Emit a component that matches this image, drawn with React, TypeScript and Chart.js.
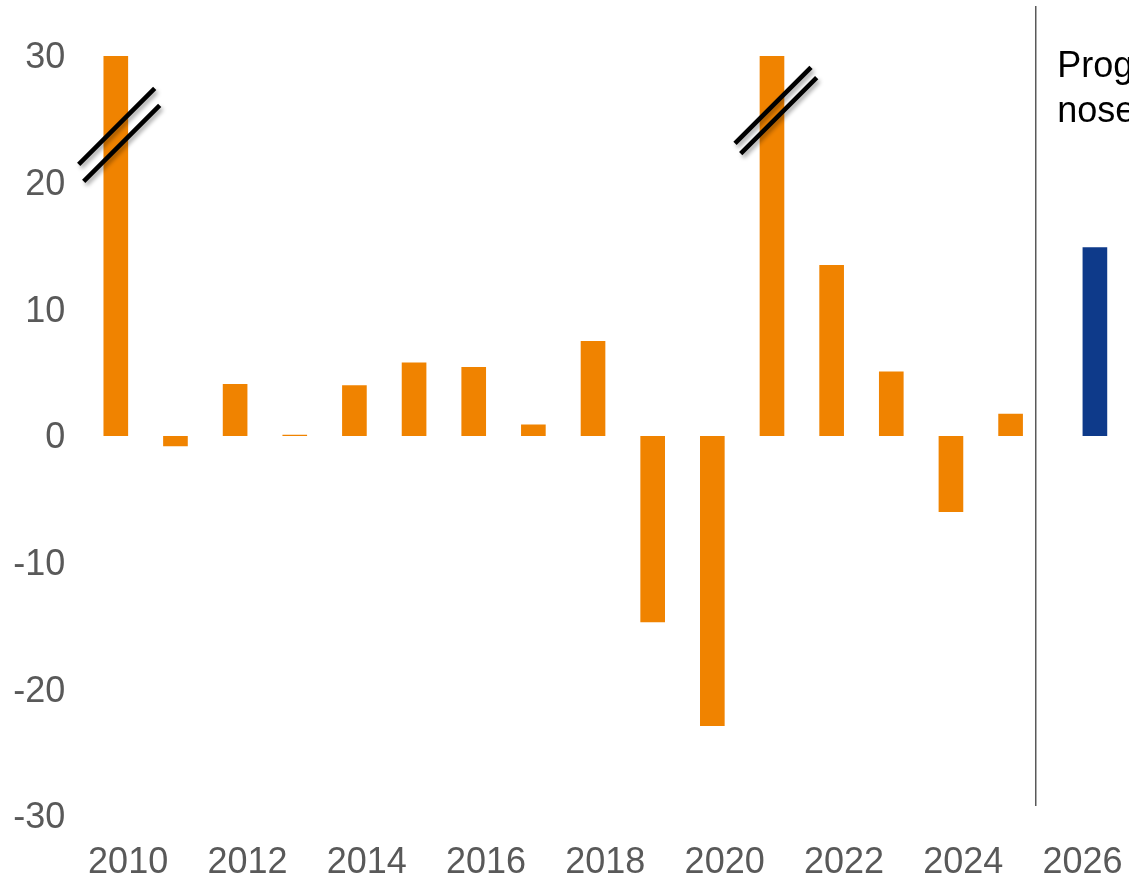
import React, { useEffect, useRef } from "react";
import { Chart, registerables } from "chart.js";

Chart.register(...registerables);

// ---- data ----
const years = [
  "2010", "2011", "2012", "2013", "2014", "2015", "2016", "2017", "2018",
  "2019", "2020", "2021", "2022", "2023", "2024", "2025", "2026",
];
// historical values (2010 and 2021 are cut off at 30 with break marks)
const historical: (number | null)[] = [
  30, -0.8, 4.1, 0.1, 4.0, 5.8, 5.45, 0.9, 7.5, -14.7, -22.9, 30, 13.5, 5.1, -6.0, 1.75, null,
];
const forecast: (number | null)[] = [
  null, null, null, null, null, null, null, null, null, null, null, null, null, null, null, null, 14.9,
];
const yTicks = [-30, -20, -10, 0, 10, 20, 30];
const forecastLabel = ["Prog-", "nose"];
const brokenBars = ["2010", "2021"];
const dividerAfter = "2025";

// ---- styles ----
const ORANGE = "#F08300";
const BLUE = "#0E3A8A";
const GREY = "#595959";
const FAMILY = "'Liberation Sans', Arial, Helvetica, sans-serif";

// break mark geometry: for each broken bar, two 45-degree strokes
// [x offset from bar centre in px, value at stroke middle]
const breakGeometry: Record<string, [number, number][]> = {
  "2010": [[0.9, 24.44], [5.9, 23.11]],
  "2021": [[1.0, 26.1], [6.7, 25.29]],
};

const overlayPlugin = {
  id: "overlay",
  afterDatasetsDraw(chart: any) {
    const ctx = chart.ctx as CanvasRenderingContext2D;
    const xs = chart.scales.x;
    const ys = chart.scales.y;
    const meta = chart.getDatasetMeta(0);

    // break marks
    brokenBars.forEach((yr) => {
      const idx = years.indexOf(yr);
      const bar = meta.data[idx];
      if (!bar) return;
      const geo = breakGeometry[yr];
      ctx.save();
      ctx.strokeStyle = "#000";
      ctx.lineWidth = 4.6;
      ctx.lineCap = "butt";
      ctx.shadowColor = "rgba(0,0,0,0.35)";
      ctx.shadowBlur = 4;
      ctx.shadowOffsetX = 2;
      ctx.shadowOffsetY = 3;
      geo.forEach(([dx, v]) => {
        const cx = bar.x + dx;
        const cy = ys.getPixelForValue(v);
        const h = 38;
        ctx.beginPath();
        ctx.moveTo(cx - h, cy + h);
        ctx.lineTo(cx + h, cy - h);
        ctx.stroke();
      });
      ctx.restore();
    });

    // divider between history and forecast
    const i = years.indexOf(dividerAfter);
    const step = xs.getPixelForValue(i + 1) - xs.getPixelForValue(i);
    const dx = xs.getPixelForValue(i) + step * 0.215;
    ctx.save();
    ctx.strokeStyle = GREY;
    ctx.lineWidth = 1.5;
    ctx.beginPath();
    ctx.moveTo(dx, 6);
    ctx.lineTo(dx, chart.chartArea.bottom - 10);
    ctx.stroke();

    // forecast label
    ctx.fillStyle = "#000";
    ctx.font = `36px ${FAMILY}`;
    ctx.textAlign = "left";
    ctx.textBaseline = "alphabetic";
    forecastLabel.forEach((t, k) => {
      ctx.fillText(t, dx + 21.5, 77 + k * 45);
    });
    ctx.restore();
  },
};

export default function App() {
  const ref = useRef<HTMLCanvasElement>(null);

  useEffect(() => {
    document.body.style.margin = "0";
    document.body.style.overflow = "hidden";
    const canvas = ref.current!;
    const chart = new Chart(canvas, {
      type: "bar",
      data: {
        labels: years,
        datasets: [
          {
            label: "Historisk",
            data: historical,
            backgroundColor: ORANGE,
            borderWidth: 0,
            categoryPercentage: 0.8265,
            barPercentage: 1,
          },
          {
            label: "Prognose",
            data: forecast,
            backgroundColor: BLUE,
            borderWidth: 0,
            categoryPercentage: 0.8265,
            barPercentage: 1,
          },
        ],
      },
      options: {
        responsive: false,
        animation: false,
        devicePixelRatio: 1,
        layout: { padding: { left: 13, right: 16.6, top: 56, bottom: 0 } },
        plugins: {
          legend: { display: false },
          tooltip: { enabled: false },
        },
        scales: {
          x: {
            grid: { display: false, drawTicks: false },
            border: { display: false },
            ticks: {
              autoSkip: false,
              maxRotation: 0,
              minRotation: 0,
              padding: 25,
              color: GREY,
              font: { size: 36, family: FAMILY },
              callback: (_v: any, idx: number) => (idx % 2 === 0 ? years[idx] : ""),
            },
            afterFit: (s: any) => {
              s.height = 64;
              s.paddingLeft = 0;
              s.paddingRight = 0;
            },
          },
          y: {
            min: -30,
            max: 30,
            grid: { display: false, drawTicks: false },
            border: { display: false },
            ticks: {
              padding: 33,
              labelOffset: 2.5,
              color: GREY,
              font: { size: 36, family: FAMILY },
              callback: (v: any) => String(v),
            },
            afterBuildTicks: (s: any) => {
              s.ticks = yTicks.map((v) => ({ value: v }));
            },
            afterFit: (s: any) => {
              s.width = 85.3;
              s.paddingTop = 0;
              s.paddingBottom = 0;
            },
          },
        },
      },
      plugins: [overlayPlugin],
    } as any);
    return () => chart.destroy();
  }, []);

  return (
    <canvas
      ref={ref}
      width={1129}
      height={880}
      style={{ display: "block", width: 1129, height: 880 }}
    />
  );
}
